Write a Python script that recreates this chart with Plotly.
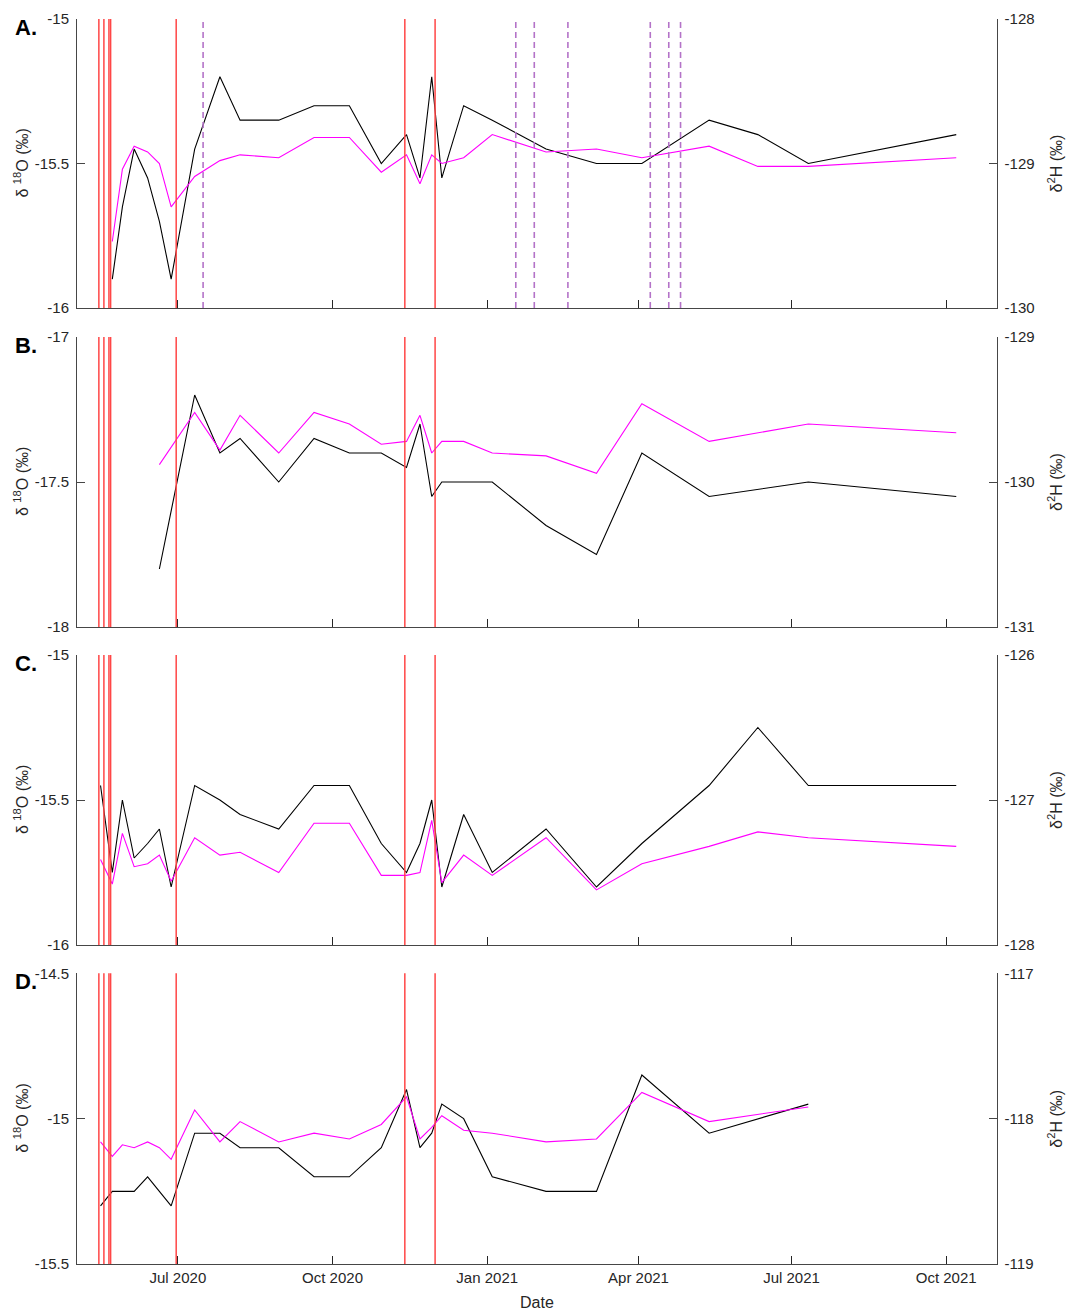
import plotly.graph_objects as go

# ---- sampling dates -------------------------------------------------------
dates_a = ["2020-05-23", "2020-05-29", "2020-06-05", "2020-06-13", "2020-06-20",
           "2020-06-27", "2020-07-11", "2020-07-26", "2020-08-07", "2020-08-30",
           "2020-09-20", "2020-10-11", "2020-10-30", "2020-11-14", "2020-11-22",
           "2020-11-29", "2020-12-05", "2020-12-18", "2021-01-04", "2021-02-05",
           "2021-03-07", "2021-04-03", "2021-05-13", "2021-06-11", "2021-07-11",
           "2021-10-07"]
dates_b = ["2020-06-20", "2020-07-11", "2020-07-26", "2020-08-07", "2020-08-30",
           "2020-09-20", "2020-10-11", "2020-10-30", "2020-11-14", "2020-11-22",
           "2020-11-29", "2020-12-05", "2020-12-18", "2021-01-04", "2021-02-05",
           "2021-03-07", "2021-04-03", "2021-05-13", "2021-07-11", "2021-10-07"]
dates_c = ["2020-05-16"] + dates_a
dates_d = ["2020-05-16"] + dates_a[:23] + ["2021-07-11"]

# ---- isotope values -------------------------------------------------------
d18o_a = [-15.90, -15.65, -15.45, -15.55, -15.70, -15.90, -15.45, -15.20, -15.35,
          -15.35, -15.30, -15.30, -15.50, -15.40, -15.55, -15.20, -15.55, -15.30,
          -15.35, -15.45, -15.50, -15.50, -15.35, -15.40, -15.50, -15.40]
d2h_a = [-129.54, -129.04, -128.88, -128.92, -129.00, -129.30, -129.09, -128.98,
         -128.94, -128.96, -128.82, -128.82, -129.06, -128.94, -129.14, -128.94,
         -129.00, -128.96, -128.80, -128.92, -128.90, -128.96, -128.88, -129.02,
         -129.02, -128.96]

d18o_b = [-17.80, -17.20, -17.40, -17.35, -17.50, -17.35, -17.40, -17.40, -17.45,
          -17.30, -17.55, -17.50, -17.50, -17.50, -17.65, -17.75, -17.40, -17.55,
          -17.50, -17.55]
d2h_b = [-129.88, -129.52, -129.78, -129.54, -129.80, -129.52, -129.60, -129.74,
         -129.72, -129.54, -129.80, -129.72, -129.72, -129.80, -129.82, -129.94,
         -129.46, -129.72, -129.60, -129.66]

d18o_c = [-15.45, -15.75, -15.50, -15.70, -15.65, -15.60, -15.80, -15.45, -15.50,
          -15.55, -15.60, -15.45, -15.45, -15.65, -15.75, -15.65, -15.50, -15.80,
          -15.55, -15.75, -15.60, -15.80, -15.65, -15.45, -15.25, -15.45, -15.45]
d2h_c = [-127.41, -127.58, -127.23, -127.46, -127.44, -127.38, -127.56, -127.26,
         -127.38, -127.36, -127.50, -127.16, -127.16, -127.52, -127.52, -127.50,
         -127.14, -127.57, -127.38, -127.52, -127.26, -127.62, -127.44, -127.32,
         -127.22, -127.26, -127.32]

d18o_d = [-15.30, -15.25, -15.25, -15.25, -15.20, -15.25, -15.30, -15.05, -15.05,
          -15.10, -15.10, -15.20, -15.20, -15.10, -14.90, -15.10, -15.05, -14.95,
          -15.00, -15.20, -15.25, -15.25, -14.85, -15.05, -14.95]
d2h_d = [-118.16, -118.26, -118.18, -118.20, -118.16, -118.20, -118.28, -117.94,
         -118.16, -118.02, -118.16, -118.10, -118.14, -118.04, -117.85, -118.14,
         -118.06, -117.98, -118.08, -118.10, -118.16, -118.14, -117.82, -118.02,
         -117.92]

# ---- event markers --------------------------------------------------------
event_dates = ["2020-05-15", "2020-05-18", "2020-05-21", "2020-05-22",
               "2020-06-30", "2020-11-13", "2020-12-01"]
dashed_dates_a = ["2020-07-16", "2021-01-18", "2021-01-29", "2021-02-18",
                  "2021-04-08", "2021-04-19", "2021-04-26"]

# ---- axis settings --------------------------------------------------------
panel_labels = ["A.", "B.", "C.", "D."]
o_ranges = [(-16, -15), (-18, -17), (-16, -15), (-15.5, -14.5)]
h_ranges = [(-130, -128), (-131, -129), (-128, -126), (-119, -117)]
o_ticktext = [["-16", "-15.5", "-15"], ["-18", "-17.5", "-17"],
              ["-16", "-15.5", "-15"], ["-15.5", "-15", "-14.5"]]
h_ticktext = [["-130", "-129", "-128"], ["-131", "-130", "-129"],
              ["-128", "-127", "-126"], ["-119", "-118", "-117"]]
x_tickvals = ["2020-07-01", "2020-10-01", "2021-01-01", "2021-04-01",
              "2021-07-01", "2021-10-01"]
x_ticktext = ["Jul 2020", "Oct 2020", "Jan 2021", "Apr 2021", "Jul 2021", "Oct 2021"]
x_range = ["2020-05-02", "2021-10-31"]

series = [(dates_a, d18o_a, d2h_a), (dates_b, d18o_b, d2h_b),
          (dates_c, d18o_c, d2h_c), (dates_d, d18o_d, d2h_d)]

W, H = 1066, 1312
PX_LEFT, PX_RIGHT = 77, 996.6
panel_px = [(19, 308), (337, 627), (655, 945), (973.3, 1264)]

FONT = "Liberation Sans, Arial, sans-serif"
TXT = "rgb(38,38,38)"
AX = "rgb(70,70,70)"
TICK_SIZE = 15
TITLE_SIZE = 16

fig = go.Figure()
layout = dict(width=W, height=H, margin=dict(l=0, r=0, t=0, b=0, autoexpand=False),
              paper_bgcolor="white", plot_bgcolor="white", showlegend=False,
              font=dict(family=FONT, size=TICK_SIZE, color=TXT))
shapes, annotations = [], []

xdom = [PX_LEFT / W, PX_RIGHT / W]
for i, (top, bot) in enumerate(panel_px):
    n = i + 1
    xname = "x" if n == 1 else f"x{n}"
    yl_idx, yr_idx = 2 * i + 1, 2 * i + 2
    yl = "y" if yl_idx == 1 else f"y{yl_idx}"
    yr = f"y{yr_idx}"
    ydom = [1 - bot / H, 1 - top / H]

    d, o, h = series[i]
    fig.add_trace(go.Scatter(x=d, y=o, mode="lines", xaxis=xname, yaxis=yl,
                             line=dict(color="black", width=1.1)))
    fig.add_trace(go.Scatter(x=d, y=h, mode="lines", xaxis=xname, yaxis=yr,
                             line=dict(color="#ff00ff", width=1.1)))

    layout[f"xaxis{'' if n == 1 else n}"] = dict(
        domain=xdom, anchor=yl, range=x_range, type="date", automargin=False,
        tickvals=x_tickvals, ticktext=x_ticktext,
        showticklabels=(n == 4), ticks="inside", ticklen=8, tickcolor=TXT,
        showline=True, linecolor=AX, linewidth=1, showgrid=False, zeroline=False,
        tickfont=dict(size=TICK_SIZE, color=TXT, family=FONT))
    lo, hi = o_ranges[i]
    layout[f"yaxis{'' if yl_idx == 1 else yl_idx}"] = dict(
        domain=ydom, anchor=xname, range=[lo, hi], automargin=False,
        tickvals=[lo, (lo + hi) / 2, hi], ticktext=o_ticktext[i],
        ticks="inside", ticklen=8, tickcolor=AX, showline=True, linecolor=AX,
        linewidth=1, showgrid=False, zeroline=False, ticklabelstandoff=4,
        tickfont=dict(size=TICK_SIZE, color=TXT, family=FONT))
    lo2, hi2 = h_ranges[i]
    layout[f"yaxis{yr_idx}"] = dict(
        domain=ydom, anchor=xname, overlaying=yl, side="right", range=[lo2, hi2],
        automargin=False,
        tickvals=[lo2, (lo2 + hi2) / 2, hi2], ticktext=h_ticktext[i],
        ticks="inside", ticklen=8, tickcolor=AX, showline=True, linecolor=AX,
        linewidth=1, showgrid=False, zeroline=False, ticklabelstandoff=4,
        tickfont=dict(size=TICK_SIZE, color=TXT, family=FONT))

    for ed in event_dates:
        shapes.append(dict(type="line", xref=xname, yref=f"{yl} domain",
                           x0=ed, x1=ed, y0=0, y1=1,
                           line=dict(color="rgb(255,70,70)", width=1.5)))
    if i == 0:
        for ed in dashed_dates_a:
            shapes.append(dict(type="line", xref=xname, yref=f"{yl} domain",
                               x0=ed, x1=ed, y0=0, y1=1,
                               line=dict(color="rgb(180,115,200)", width=1.6,
                                         dash="6px,4px")))

    mid = 1 - (top + bot) / 2 / H
    annotations.append(dict(text="δ <sup>18</sup>O (‰)", x=21 / W, y=mid,
                            xref="paper", yref="paper", textangle=-90,
                            xanchor="center", yanchor="middle", showarrow=False,
                            font=dict(size=TITLE_SIZE, color=TXT, family=FONT)))
    annotations.append(dict(text="δ<sup>2</sup>H (‰)", x=1055 / W, y=mid,
                            xref="paper", yref="paper", textangle=-90,
                            xanchor="center", yanchor="middle", showarrow=False,
                            font=dict(size=TITLE_SIZE, color=TXT, family=FONT)))
    annotations.append(dict(text=f"<b>{panel_labels[i]}</b>", x=13 / W,
                            y=1 - (top + 8) / H, xref="paper", yref="paper",
                            xanchor="left", yanchor="middle", showarrow=False,
                            font=dict(size=22, color="black", family=FONT)))

annotations.append(dict(text="Date", x=(PX_LEFT + PX_RIGHT) / 2 / W, y=1 - 1302 / H,
                        xref="paper", yref="paper", xanchor="center",
                        yanchor="middle", showarrow=False,
                        font=dict(size=TITLE_SIZE, color=TXT, family=FONT)))

layout["shapes"] = shapes
layout["annotations"] = annotations
fig.update_layout(**layout)
fig.write_html("out.html")
